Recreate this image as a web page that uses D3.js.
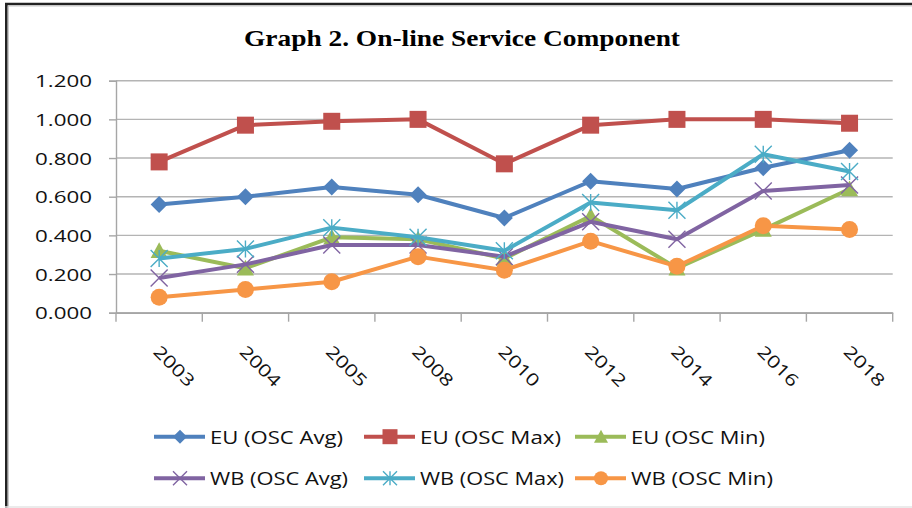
<!DOCTYPE html>
<html>
<head>
<meta charset="utf-8">
<script src="https://cdn.jsdelivr.net/npm/d3@7/dist/d3.min.js"></script>
<style>
  html, body { margin: 0; padding: 0; background: #fff; }
  svg { display: block; }
</style>
</head>
<body>
<svg id="chart" width="912" height="508"></svg>
<script>
// ---- Data ----
const years = ["2003", "2004", "2005", "2008", "2010", "2012", "2014", "2016", "2018"];
const euAvg = [0.56, 0.60, 0.65, 0.61, 0.49, 0.68, 0.64, 0.75, 0.84];
const euMax = [0.78, 0.97, 0.99, 1.00, 0.77, 0.97, 1.00, 1.00, 0.98];
const euMin = [0.32, 0.23, 0.39, 0.38, 0.28, 0.50, 0.23, 0.43, 0.64];
const wbAvg = [0.18, 0.25, 0.35, 0.35, 0.29, 0.47, 0.38, 0.63, 0.66];
const wbMax = [0.28, 0.33, 0.44, 0.39, 0.32, 0.57, 0.53, 0.82, 0.73];
const wbMin = [0.08, 0.12, 0.16, 0.29, 0.22, 0.37, 0.24, 0.45, 0.43];
const yTicks = [0, 0.2, 0.4, 0.6, 0.8, 1.0, 1.2];
const seriesNames = ["EU (OSC Avg)", "EU (OSC Max)", "EU (OSC Min)", "WB (OSC Avg)", "WB (OSC Max)", "WB (OSC Min)"];
const titleText = "Graph 2. On-line Service Component";

// ---- Styles ----
const colors = ["#4F81BD", "#C0504D", "#9BBB59", "#8064A2", "#4BACC6", "#F79646"];
const markers = ["diamond", "square", "triangle", "x", "star", "circle"];
const legendTextWidths = [133, 141, 134, 138, 144, 142];

const series = seriesNames.map((name, i) => ({
  name, color: colors[i], marker: markers[i],
  values: [euAvg, euMax, euMin, wbAvg, wbMax, wbMin][i]
}));

const svg = d3.select("#chart");
const W = 912, H = 508;

// frame
svg.append("rect").attr("x", 0).attr("y", 0).attr("width", W).attr("height", H).attr("fill", "#fff");
svg.append("line").attr("x1", 5).attr("x2", W).attr("y1", 4).attr("y2", 4)
  .attr("stroke", "#222").attr("stroke-width", 2.5);
svg.append("line").attr("x1", 5).attr("x2", W).attr("y1", 6).attr("y2", 6)
  .attr("stroke", "#c8c8c8").attr("stroke-width", 1.2);
svg.append("line").attr("x1", 6.3).attr("x2", 6.3).attr("y1", 3).attr("y2", 508)
  .attr("stroke", "#222").attr("stroke-width", 2.6);
svg.append("line").attr("x1", 8.3).attr("x2", 8.3).attr("y1", 6).attr("y2", 508)
  .attr("stroke", "#bdbdbd").attr("stroke-width", 1);
svg.append("line").attr("x1", 5).attr("x2", W).attr("y1", 507).attr("y2", 507)
  .attr("stroke", "#e4e4e4").attr("stroke-width", 1.5);

// title
svg.append("text")
  .attr("x", 462).attr("y", 46)
  .attr("text-anchor", "middle")
  .attr("textLength", 436).attr("lengthAdjust", "spacingAndGlyphs")
  .style("font-family", "'Liberation Serif', 'Times New Roman', serif")
  .style("font-weight", "bold")
  .style("font-size", "23px")
  .attr("fill", "#000")
  .text(titleText);

// scales
const plotL = 116, plotR = 892.7, plotT = 80.7, plotB = 312.7;
const x = d3.scaleBand().domain(years).range([plotL, plotR]).padding(0);
const y = d3.scaleLinear().domain([0, 1.2]).range([plotB, plotT]);
const cx = d => x(d) + x.bandwidth() / 2;

// gridlines
svg.append("g").selectAll("line").data(yTicks).join("line")
  .attr("x1", plotL).attr("x2", plotR)
  .attr("y1", d => y(d)).attr("y2", d => y(d))
  .attr("stroke", "#b4b4b4").attr("stroke-width", 1.4);

// y axis
const yAxis = svg.append("g").attr("transform", `translate(${plotL},0)`)
  .call(d3.axisLeft(y).tickValues(yTicks).tickFormat(d3.format(".3f")).tickSize(7).tickPadding(17));
yAxis.select(".domain").attr("stroke", "#a6a6a6").attr("stroke-width", 1.4);
yAxis.selectAll(".tick line").attr("stroke", "#a6a6a6").attr("stroke-width", 1.4);
yAxis.selectAll(".tick text")
  .attr("textLength", 57).attr("lengthAdjust", "spacingAndGlyphs")
  .attr("dy", "0.36em")
  .style("font-family", "'Open Sans', sans-serif")
  .style("font-size", "17px")
  .attr("fill", "#111");

// x axis
const xAxis = svg.append("g").attr("transform", `translate(0,${plotB})`)
  .call(d3.axisBottom(x).tickSize(0));
xAxis.select(".domain").attr("stroke", "#a6a6a6").attr("stroke-width", 1.4);
xAxis.selectAll(".tick text")
  .attr("x", 0).attr("y", 0).attr("dy", 0)
  .attr("transform", "translate(-7,40) rotate(45)")
  .style("text-anchor", "start")
  .attr("textLength", 50).attr("lengthAdjust", "spacingAndGlyphs")
  .style("font-family", "'Open Sans', sans-serif")
  .style("font-size", "17px")
  .attr("fill", "#111");
const bounds = years.map(d => x(d)).concat([plotR]);
svg.append("g").selectAll("line").data(bounds).join("line")
  .attr("x1", d => d).attr("x2", d => d)
  .attr("y1", plotB).attr("y2", plotB + 9)
  .attr("stroke", "#a6a6a6").attr("stroke-width", 1.4);

// marker drawing
function drawMarker(g, type, color, px, py, s) {
  const h = s / 2;
  if (type === "diamond") {
    g.append("path").attr("d", `M${px},${py - h}L${px + h},${py}L${px},${py + h}L${px - h},${py}Z`).attr("fill", color);
  } else if (type === "square") {
    g.append("rect").attr("x", px - h).attr("y", py - h).attr("width", s).attr("height", s).attr("fill", color);
  } else if (type === "triangle") {
    g.append("path").attr("d", `M${px},${py - h}L${px + h},${py + h * 0.85}L${px - h},${py + h * 0.85}Z`).attr("fill", color);
  } else if (type === "circle") {
    g.append("circle").attr("cx", px).attr("cy", py).attr("r", h).attr("fill", color);
  } else if (type === "x") {
    g.append("path").attr("d", `M${px - h},${py - h}L${px + h},${py + h}M${px - h},${py + h}L${px + h},${py - h}`)
      .attr("stroke", color).attr("stroke-width", 1.4).attr("fill", "none");
  } else if (type === "star") {
    g.append("path").attr("d", `M${px - h},${py - h}L${px + h},${py + h}M${px - h},${py + h}L${px + h},${py - h}M${px},${py - h}L${px},${py + h}`)
      .attr("stroke", color).attr("stroke-width", 1.4).attr("fill", "none");
  }
}

// series
const line = d3.line().x((v, i) => cx(years[i])).y(v => y(v));
series.forEach(s => {
  const g = svg.append("g");
  g.append("path").datum(s.values).attr("d", line)
    .attr("fill", "none").attr("stroke", s.color).attr("stroke-width", 4)
    .attr("stroke-linejoin", "round");
  s.values.forEach((v, i) => drawMarker(g, s.marker, s.color, cx(years[i]), y(v), s.marker === "square" ? 17 : 17));
});

// legend
const legendCols = [154, 364, 575];
const legendRows = [436.7, 478.3];
series.forEach((s, i) => {
  const lx = legendCols[i % 3], ly = legendRows[Math.floor(i / 3)];
  const g = svg.append("g");
  g.append("line").attr("x1", lx).attr("x2", lx + 51).attr("y1", ly).attr("y2", ly)
    .attr("stroke", s.color).attr("stroke-width", 4);
  drawMarker(g, s.marker, s.color, lx + 26, ly, s.marker === "square" ? 15 : 14);
  g.append("text").attr("x", lx + 56).attr("y", ly + 7)
    .attr("textLength", legendTextWidths[i]).attr("lengthAdjust", "spacingAndGlyphs")
    .style("font-family", "'Open Sans', sans-serif")
    .style("font-size", "19px")
    .attr("fill", "#111")
    .text(s.name);
});
</script>
</body>
</html>
